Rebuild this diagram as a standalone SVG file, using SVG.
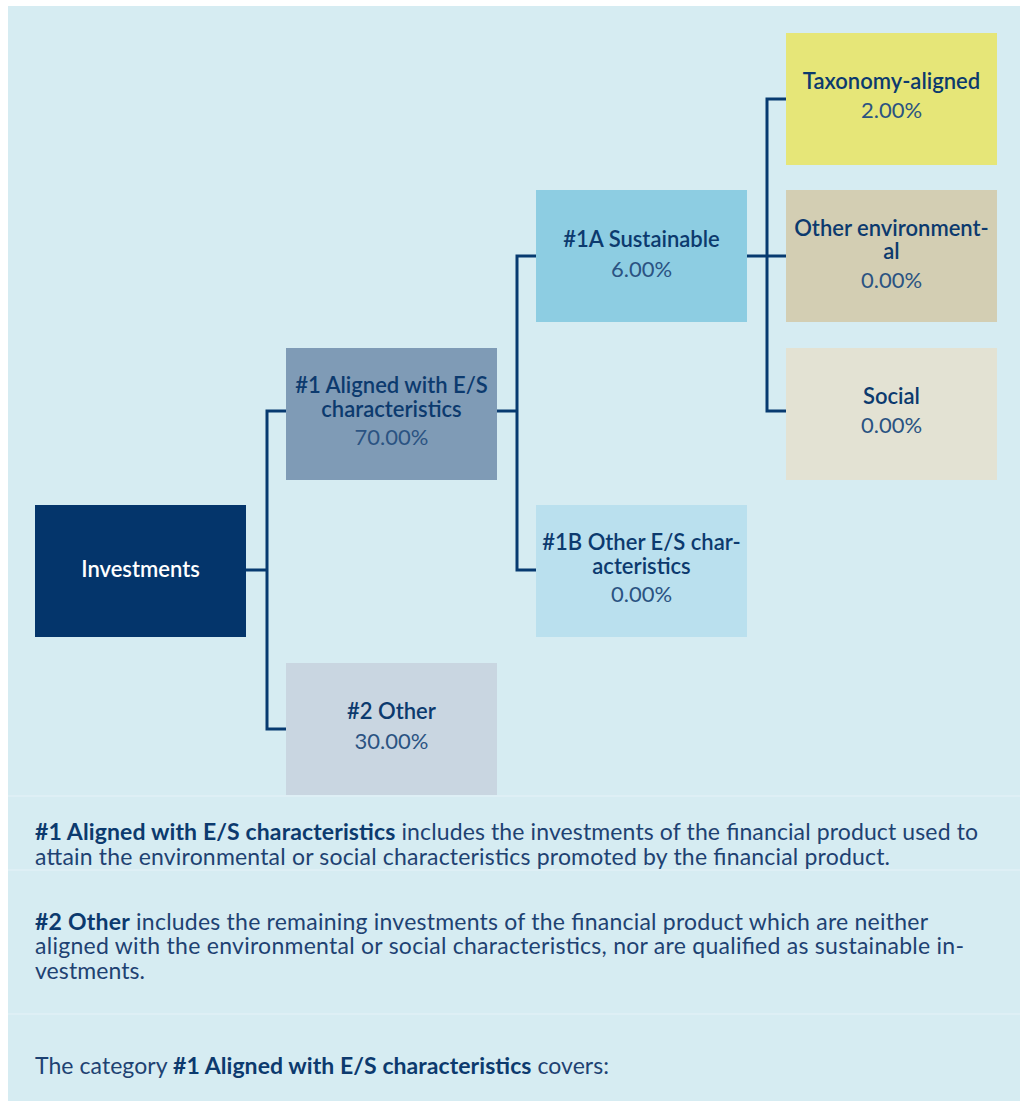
<svg xmlns="http://www.w3.org/2000/svg" width="1020" height="1101" viewBox="0 0 1020 1101">
<style>
.node{stroke:none}
.t{font-family:Lato,"Noto Sans","Liberation Sans",sans-serif;font-size:22px;fill:#0c3a6e;text-anchor:middle;font-weight:600}
.p{font-family:Lato,"Noto Sans","Liberation Sans",sans-serif;font-size:22px;fill:#2b5382;text-anchor:middle;font-weight:400}
.b{font-family:Lato,"Noto Sans","Liberation Sans",sans-serif;font-size:23px;fill:#1e4272}
.bb{font-weight:700;fill:#0c3a6e}
.c{fill:none;stroke:#073a70;stroke-width:3;stroke-linecap:square}
.sep{stroke:#e0f1f6;stroke-width:1.5}
</style>
<rect x="0" y="0" width="1020" height="1101" fill="#ffffff"/>
<rect x="8" y="6" width="1012" height="1095" fill="#d6ecf2"/>
<g id="separators">
<line class="sep" x1="8" y1="796" x2="1020" y2="796"/>
<line class="sep" x1="8" y1="870" x2="1020" y2="870"/>
<line class="sep" x1="8" y1="1014" x2="1020" y2="1014"/>
</g>
<g id="connectors">
<path class="c" d="M246 570 H267 M267 411 V729 M267 411 H286 M267 729 H286"/>
<path class="c" d="M497 411 H517 M517 256 V570 M517 256 H536 M517 570 H536"/>
<path class="c" d="M747 256 H767 M767 99 V411 M767 99 H786 M767 256 H786 M767 411 H786"/>
</g>
<g id="investments">
<rect class="node" x="35" y="505" width="211" height="132" fill="#04356b"/>
<text class="t" x="140.5" y="577" style="fill:#ffffff">Investments</text>
</g>
<g id="aligned">
<rect class="node" x="286" y="348" width="211" height="132" fill="#7f9bb6"/>
<text class="t" x="391.5" y="393">#1 Aligned with E/S</text>
<text class="t" x="391.5" y="417">characteristics</text>
<text class="p" x="391.5" y="445">70.00%</text>
</g>
<g id="other">
<rect class="node" x="286" y="663" width="211" height="132" fill="#c9d6e1"/>
<text class="t" x="391.5" y="719">#2 Other</text>
<text class="p" x="391.5" y="749">30.00%</text>
</g>
<g id="sustainable">
<rect class="node" x="536" y="190" width="211" height="132" fill="#8dcde2"/>
<text class="t" x="641.5" y="247">#1A Sustainable</text>
<text class="p" x="641.5" y="277">6.00%</text>
</g>
<g id="other-es">
<rect class="node" x="536" y="505" width="211" height="132" fill="#bae0ee"/>
<text class="t" x="641.5" y="550">#1B Other E/S char-</text>
<text class="t" x="641.5" y="574">acteristics</text>
<text class="p" x="641.5" y="602">0.00%</text>
</g>
<g id="taxonomy">
<rect class="node" x="786" y="33" width="211" height="132" fill="#e6e678"/>
<text class="t" x="891.5" y="89">Taxonomy-aligned</text>
<text class="p" x="891.5" y="118">2.00%</text>
</g>
<g id="other-env">
<rect class="node" x="786" y="190" width="211" height="132" fill="#d3ceb3"/>
<text class="t" x="891.5" y="236">Other environment-</text>
<text class="t" x="891.5" y="259">al</text>
<text class="p" x="891.5" y="288">0.00%</text>
</g>
<g id="social">
<rect class="node" x="786" y="348" width="211" height="132" fill="#e3e2d3"/>
<text class="t" x="891.5" y="404">Social</text>
<text class="p" x="891.5" y="433">0.00%</text>
</g>
<g id="notes">
<text class="b" x="35" y="840" textLength="943" lengthAdjust="spacing"><tspan class="bb">#1 Aligned with E/S characteristics</tspan> includes the investments of the financial product used to</text>
<text class="b" x="35" y="865" textLength="855" lengthAdjust="spacing">attain the environmental or social characteristics promoted by the financial product.</text>
<text class="b" x="35" y="930" textLength="893" lengthAdjust="spacing"><tspan class="bb">#2 Other</tspan> includes the remaining investments of the financial product which are neither</text>
<text class="b" x="35" y="954" textLength="929" lengthAdjust="spacing">aligned with the environmental or social characteristics, nor are qualified as sustainable in-</text>
<text class="b" x="35" y="979" textLength="110" lengthAdjust="spacing">vestments.</text>
<text class="b" x="35" y="1074" textLength="574" lengthAdjust="spacing">The category <tspan class="bb">#1 Aligned with E/S characteristics</tspan> covers:</text>
</g>
</svg>
